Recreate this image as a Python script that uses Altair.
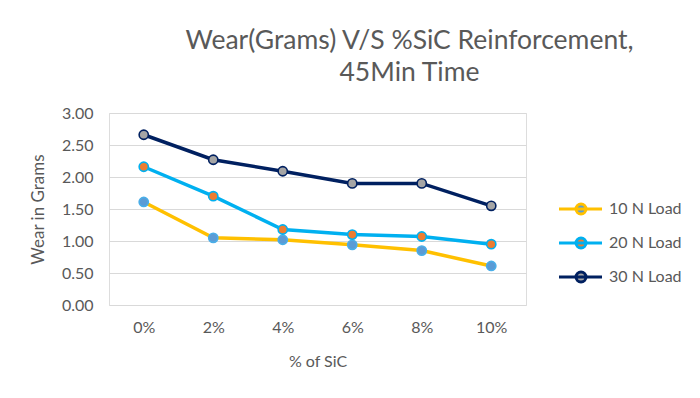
import altair as alt
import pandas as pd

sic = ["0%", "2%", "4%", "6%", "8%", "10%"]
load10 = [1.61, 1.05, 1.02, 0.94, 0.85, 0.61]
load20 = [2.16, 1.70, 1.18, 1.10, 1.07, 0.95]
load30 = [2.66, 2.27, 2.09, 1.90, 1.90, 1.55]
series = ["10 N Load", "20 N Load", "30 N Load"]
y_ticks = [0, 0.5, 1.0, 1.5, 2.0, 2.5, 3.0]

rows = []
for name, vals in zip(series, [load10, load20, load30]):
    for s, v in zip(sic, vals):
        rows.append({"sic": s, "wear": v, "series": name})
df = pd.DataFrame(rows)

line_colors = ["#FFC000", "#00B0F0", "#002060"]
marker_fill = ["#5B9BD5", "#ED7D31", "#A5A5A5"]
marker_stroke = ["#4AAEE8", "#00B0F0", "#002060"]

FONT = "Lato"
GREY = "#595959"

x = alt.X(
    "sic:N", sort=sic, title="% of SiC",
    scale=alt.Scale(type="point", padding=0.5),
    axis=alt.Axis(labelAngle=0, domain=False, ticks=False, grid=False, labelPadding=14,
                  titlePadding=18, labelFontSize=16, titleFontSize=16,
                  labelColor=GREY, titleColor=GREY, labelFont=FONT, titleFont=FONT,
                  titleFontWeight="normal"),
)
y = alt.Y(
    "wear:Q", title="Wear in Grams",
    scale=alt.Scale(domain=[0, 3], nice=False, zero=True),
    axis=alt.Axis(values=y_ticks, format=".2f", domain=False, ticks=False,
                  labelPadding=16, titlePadding=14, labelFontSize=16, titleFontSize=17,
                  labelColor=GREY, titleColor=GREY, labelFont=FONT, titleFont=FONT,
                  titleFontWeight="normal", grid=True, gridColor="#D9D9D9", gridWidth=1),
)

legend_path = "M-1,0L7.6,0M4.4,0A1,1,0,1,1,2.4,0A1,1,0,1,1,4.4,0Z"
legend = alt.Legend(
    title=None, orient="none", legendX=447, legendY=88,
    symbolType=legend_path, symbolSize=100, symbolStrokeWidth=3,
    labelFont=FONT, labelFontSize=16, labelColor=GREY, labelOffset=37,
    rowPadding=12, padding=0,
)

base = alt.Chart(df)
lines = base.mark_line(strokeWidth=3.5).encode(
    x=x, y=y,
    color=alt.Color("series:N", sort=series,
                    scale=alt.Scale(domain=series, range=line_colors), legend=legend),
)
points = base.mark_point(filled=True, size=85, strokeWidth=1.6, opacity=1).encode(
    x=x, y=y,
    fill=alt.Fill("series:N", sort=series,
                  scale=alt.Scale(domain=series, range=marker_fill), legend=legend),
    stroke=alt.Stroke("series:N", sort=series,
                      scale=alt.Scale(domain=series, range=marker_stroke), legend=None),
)

chart = alt.layer(lines, points).properties(
    width=417, height=192,
    autosize=alt.AutoSizeParams(type="none"),
    padding={"left": 101, "top": 105, "right": 166, "bottom": 85},
    title=alt.TitleParams(
        text=["Wear(Grams) V/S %SiC Reinforcement,", "45Min Time"],
        font=FONT, fontSize=26.5, fontWeight="normal", color=GREY,
        anchor="middle", dx=92, offset=19, lineHeight=32,
    ),
).configure_view(stroke=None, strokeWidth=0).configure_axisX(grid=False).configure(background="white")

chart.save("out.html", embed_options={"renderer": "svg", "actions": False})
